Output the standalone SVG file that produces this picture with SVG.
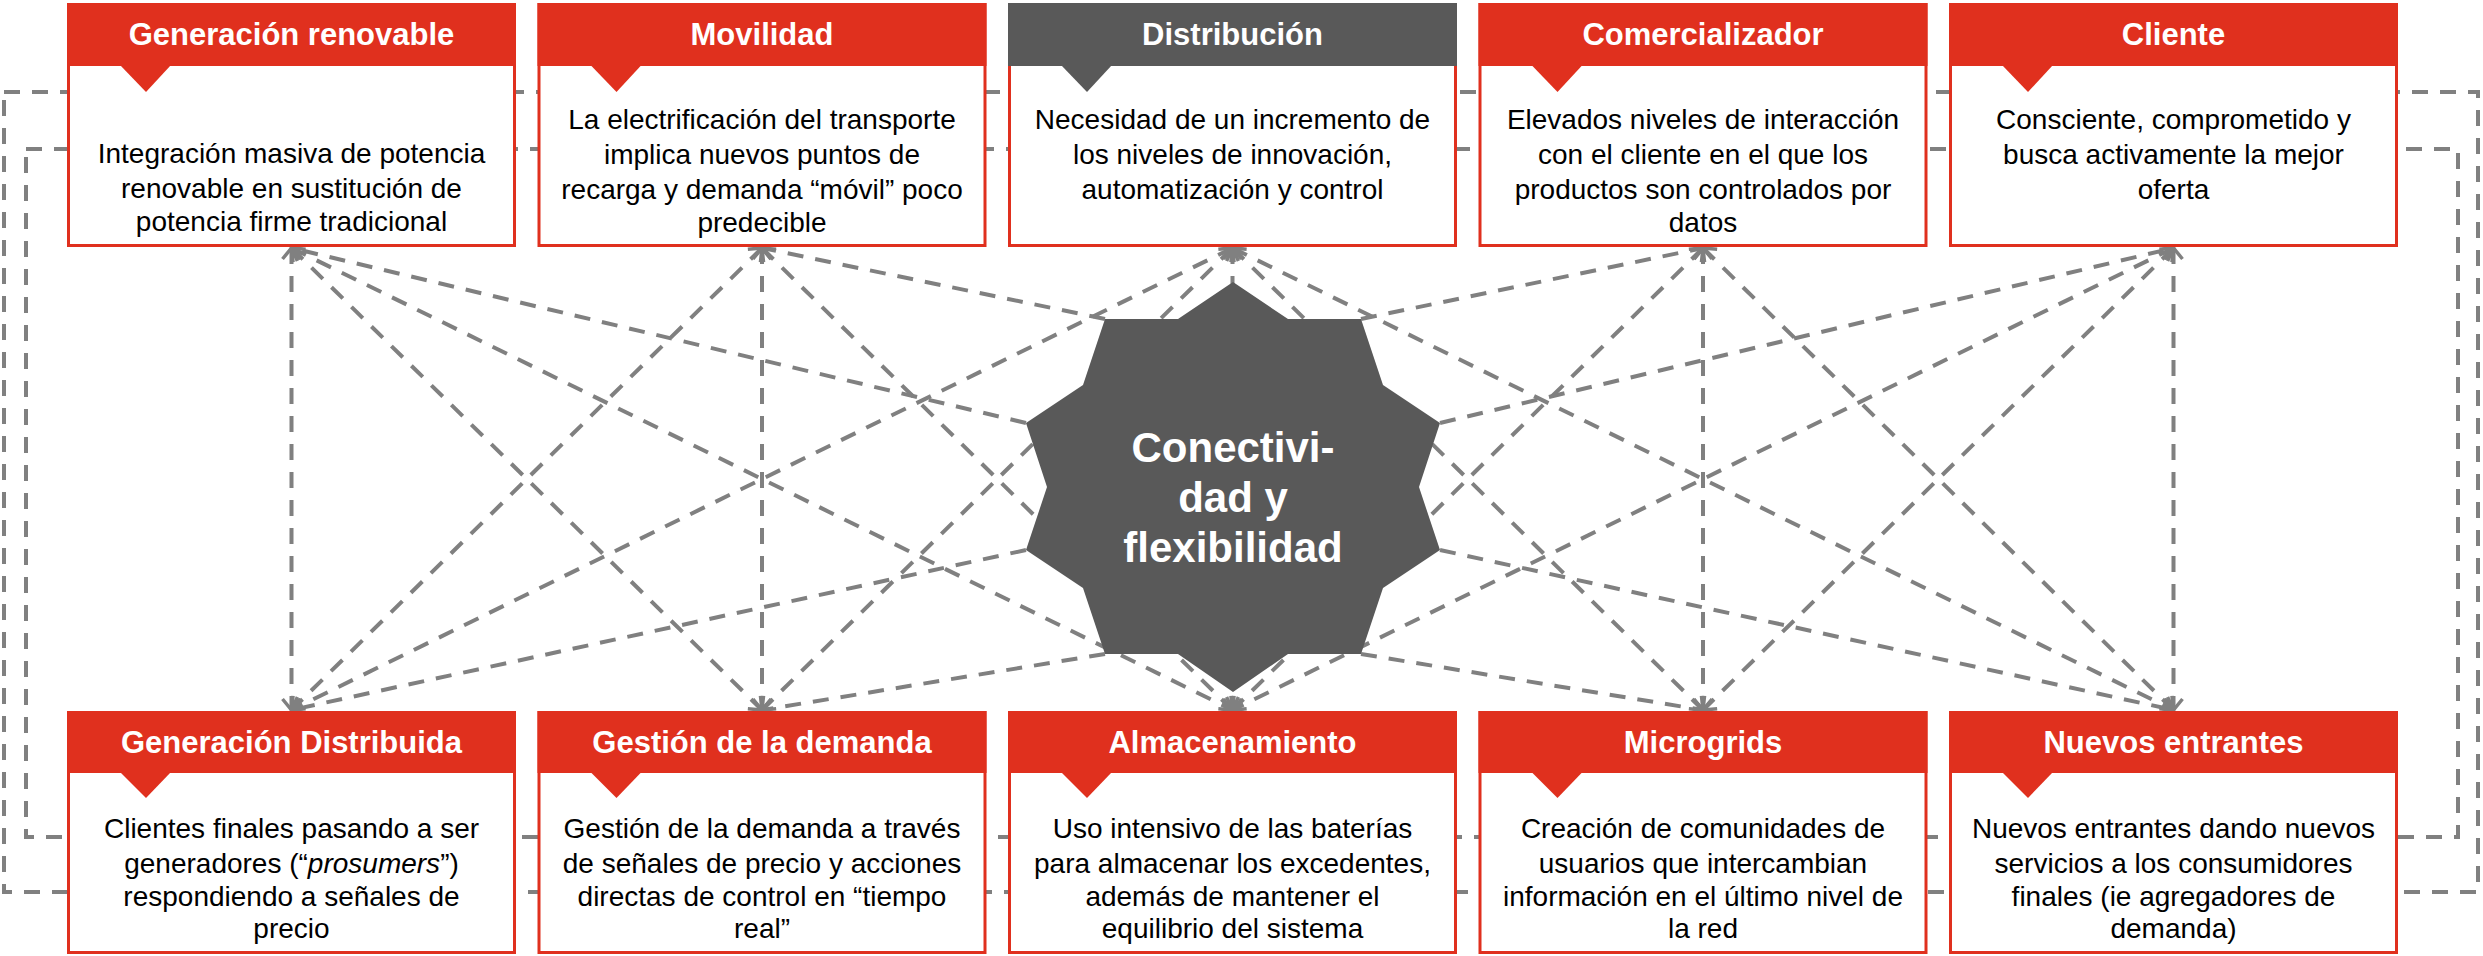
<svg xmlns="http://www.w3.org/2000/svg" width="2483" height="956" viewBox="0 0 2483 956">
<defs>
<style>
.ln{fill:none;stroke:#808080;stroke-width:4;stroke-dasharray:16 12}
.box{fill:#fff;stroke:#E0301E;stroke-width:3}
.hr{fill:#E0301E}
.hg{fill:#595959}
.ht{font-family:"Liberation Sans",Arial,sans-serif;font-weight:bold;font-size:31px;fill:#fff;text-anchor:middle}
.bt{font-family:"Liberation Sans",Arial,sans-serif;font-size:28px;fill:#000;text-anchor:middle}
.st{font-family:"Liberation Sans",Arial,sans-serif;font-weight:bold;font-size:42px;fill:#fff;text-anchor:middle}
</style>
<marker id="arr" viewBox="-14 -12 16 24" refX="0" refY="0" markerWidth="16" markerHeight="24" markerUnits="userSpaceOnUse" orient="auto-start-reverse">
<path d="M-11,-9 L0,0 L-11,9" fill="none" stroke="#808080" stroke-width="3.5"/>
</marker>
</defs>
<rect width="2483" height="956" fill="#fff"/>

<g id="connectors">
<rect class="ln" x="4" y="92" width="2474" height="800"/>
<rect class="ln" x="26" y="149" width="2432" height="688"/>
<g marker-start="url(#arr)" marker-end="url(#arr)">
<path class="ln" d="M291.5,248 L291.5,710"/>
<path class="ln" d="M762,248 L762,710"/>
<path class="ln" d="M1232.5,248 L1232.5,710"/>
<path class="ln" d="M1703,248 L1703,710"/>
<path class="ln" d="M2173.5,248 L2173.5,710"/>
<path class="ln" d="M291.5,248 L762,710"/>
<path class="ln" d="M762,248 L291.5,710"/>
<path class="ln" d="M762,248 L1232.5,710"/>
<path class="ln" d="M1232.5,248 L762,710"/>
<path class="ln" d="M1232.5,248 L1703,710"/>
<path class="ln" d="M1703,248 L1232.5,710"/>
<path class="ln" d="M1703,248 L2173.5,710"/>
<path class="ln" d="M2173.5,248 L1703,710"/>
<path class="ln" d="M291.5,248 L1232.5,710"/>
<path class="ln" d="M1232.5,248 L291.5,710"/>
<path class="ln" d="M1232.5,248 L2173.5,710"/>
<path class="ln" d="M2173.5,248 L1232.5,710"/>
</g>
<g marker-end="url(#arr)">
<path class="ln" d="M1026,423 L291.5,248"/>
<path class="ln" d="M1105,319 L762,248"/>
<path class="ln" d="M1361,319 L1703,248"/>
<path class="ln" d="M1440,423 L2173.5,248"/>
<path class="ln" d="M1026,550 L291.5,710"/>
<path class="ln" d="M1105,654 L762,710"/>
<path class="ln" d="M1361,654 L1703,710"/>
<path class="ln" d="M1440,550 L2173.5,710"/>
</g>
</g>

<g id="hub">
<polygon fill="#595959" points="1233,282 1288,319 1361,319 1383,385 1440,423 1419,487 1440,550 1383,588 1361,654 1288,654 1233,692 1178,654 1105,654 1083,588 1026,550 1047,487 1026,423 1083,385 1105,319 1178,319"/>
<text class="st" x="1233" y="462">Conectivi-</text>
<text class="st" x="1233" y="512">dad y</text>
<text class="st" x="1233" y="562">flexibilidad</text>
</g>

<g id="generacion-renovable">
<rect class="box" x="68.5" y="4.5" width="446" height="241"/>
<rect class="hr" x="67" y="3" width="449" height="63"/>
<path class="hr" d="M120,65 L171,65 L146,92 Z"/>
<text class="ht" x="291.5" y="45">Generación renovable</text>
<text class="bt" x="291.5" y="163">Integración masiva de potencia</text>
<text class="bt" x="291.5" y="198">renovable en sustitución de</text>
<text class="bt" x="291.5" y="231">potencia firme tradicional</text>
</g>

<g id="movilidad">
<rect class="box" x="539" y="4.5" width="446" height="241"/>
<rect class="hr" x="537.5" y="3" width="449" height="63"/>
<path class="hr" d="M590.5,65 L641.5,65 L616.5,92 Z"/>
<text class="ht" x="762" y="45">Movilidad</text>
<text class="bt" x="762" y="129">La electrificación del transporte</text>
<text class="bt" x="762" y="164">implica nuevos puntos de</text>
<text class="bt" x="762" y="199">recarga y demanda “móvil” poco</text>
<text class="bt" x="762" y="232">predecible</text>
</g>

<g id="distribucion">
<rect class="box" x="1009.5" y="4.5" width="446" height="241"/>
<rect class="hg" x="1008" y="3" width="449" height="63"/>
<path class="hg" d="M1061,65 L1112,65 L1087,92 Z"/>
<text class="ht" x="1232.5" y="45">Distribución</text>
<text class="bt" x="1232.5" y="129">Necesidad de un incremento de</text>
<text class="bt" x="1232.5" y="164">los niveles de innovación,</text>
<text class="bt" x="1232.5" y="199">automatización y control</text>
</g>

<g id="comercializador">
<rect class="box" x="1480" y="4.5" width="446" height="241"/>
<rect class="hr" x="1478.5" y="3" width="449" height="63"/>
<path class="hr" d="M1531.5,65 L1582.5,65 L1557.5,92 Z"/>
<text class="ht" x="1703" y="45">Comercializador</text>
<text class="bt" x="1703" y="129">Elevados niveles de interacción</text>
<text class="bt" x="1703" y="164">con el cliente en el que los</text>
<text class="bt" x="1703" y="199">productos son controlados por</text>
<text class="bt" x="1703" y="232">datos</text>
</g>

<g id="cliente">
<rect class="box" x="1950.5" y="4.5" width="446" height="241"/>
<rect class="hr" x="1949" y="3" width="449" height="63"/>
<path class="hr" d="M2002,65 L2053,65 L2028,92 Z"/>
<text class="ht" x="2173.5" y="45">Cliente</text>
<text class="bt" x="2173.5" y="129">Consciente, comprometido y</text>
<text class="bt" x="2173.5" y="164">busca activamente la mejor</text>
<text class="bt" x="2173.5" y="199">oferta</text>
</g>

<g id="generacion-distribuida">
<rect class="box" x="68.5" y="712.5" width="446" height="240"/>
<rect class="hr" x="67" y="711" width="449" height="62"/>
<path class="hr" d="M120,772 L171,772 L146,798 Z"/>
<text class="ht" x="291.5" y="753">Generación Distribuida</text>
<text class="bt" x="291.5" y="838">Clientes finales pasando a ser</text>
<text class="bt" x="291.5" y="873">generadores (“<tspan font-style="italic">prosumers</tspan>”)</text>
<text class="bt" x="291.5" y="906">respondiendo a señales de</text>
<text class="bt" x="291.5" y="938">precio</text>
</g>

<g id="gestion-demanda">
<rect class="box" x="539" y="712.5" width="446" height="240"/>
<rect class="hr" x="537.5" y="711" width="449" height="62"/>
<path class="hr" d="M590.5,772 L641.5,772 L616.5,798 Z"/>
<text class="ht" x="762" y="753">Gestión de la demanda</text>
<text class="bt" x="762" y="838">Gestión de la demanda a través</text>
<text class="bt" x="762" y="873">de señales de precio y acciones</text>
<text class="bt" x="762" y="906">directas de control en “tiempo</text>
<text class="bt" x="762" y="938">real”</text>
</g>

<g id="almacenamiento">
<rect class="box" x="1009.5" y="712.5" width="446" height="240"/>
<rect class="hr" x="1008" y="711" width="449" height="62"/>
<path class="hr" d="M1061,772 L1112,772 L1087,798 Z"/>
<text class="ht" x="1232.5" y="753">Almacenamiento</text>
<text class="bt" x="1232.5" y="838">Uso intensivo de las baterías</text>
<text class="bt" x="1232.5" y="873">para almacenar los excedentes,</text>
<text class="bt" x="1232.5" y="906">además de mantener el</text>
<text class="bt" x="1232.5" y="938">equilibrio del sistema</text>
</g>

<g id="microgrids">
<rect class="box" x="1480" y="712.5" width="446" height="240"/>
<rect class="hr" x="1478.5" y="711" width="449" height="62"/>
<path class="hr" d="M1531.5,772 L1582.5,772 L1557.5,798 Z"/>
<text class="ht" x="1703" y="753">Microgrids</text>
<text class="bt" x="1703" y="838">Creación de comunidades de</text>
<text class="bt" x="1703" y="873">usuarios que intercambian</text>
<text class="bt" x="1703" y="906">información en el último nivel de</text>
<text class="bt" x="1703" y="938">la red</text>
</g>

<g id="nuevos-entrantes">
<rect class="box" x="1950.5" y="712.5" width="446" height="240"/>
<rect class="hr" x="1949" y="711" width="449" height="62"/>
<path class="hr" d="M2002,772 L2053,772 L2028,798 Z"/>
<text class="ht" x="2173.5" y="753">Nuevos entrantes</text>
<text class="bt" x="2173.5" y="838">Nuevos entrantes dando nuevos</text>
<text class="bt" x="2173.5" y="873">servicios a los consumidores</text>
<text class="bt" x="2173.5" y="906">finales (ie agregadores de</text>
<text class="bt" x="2173.5" y="938">demanda)</text>
</g>
</svg>
